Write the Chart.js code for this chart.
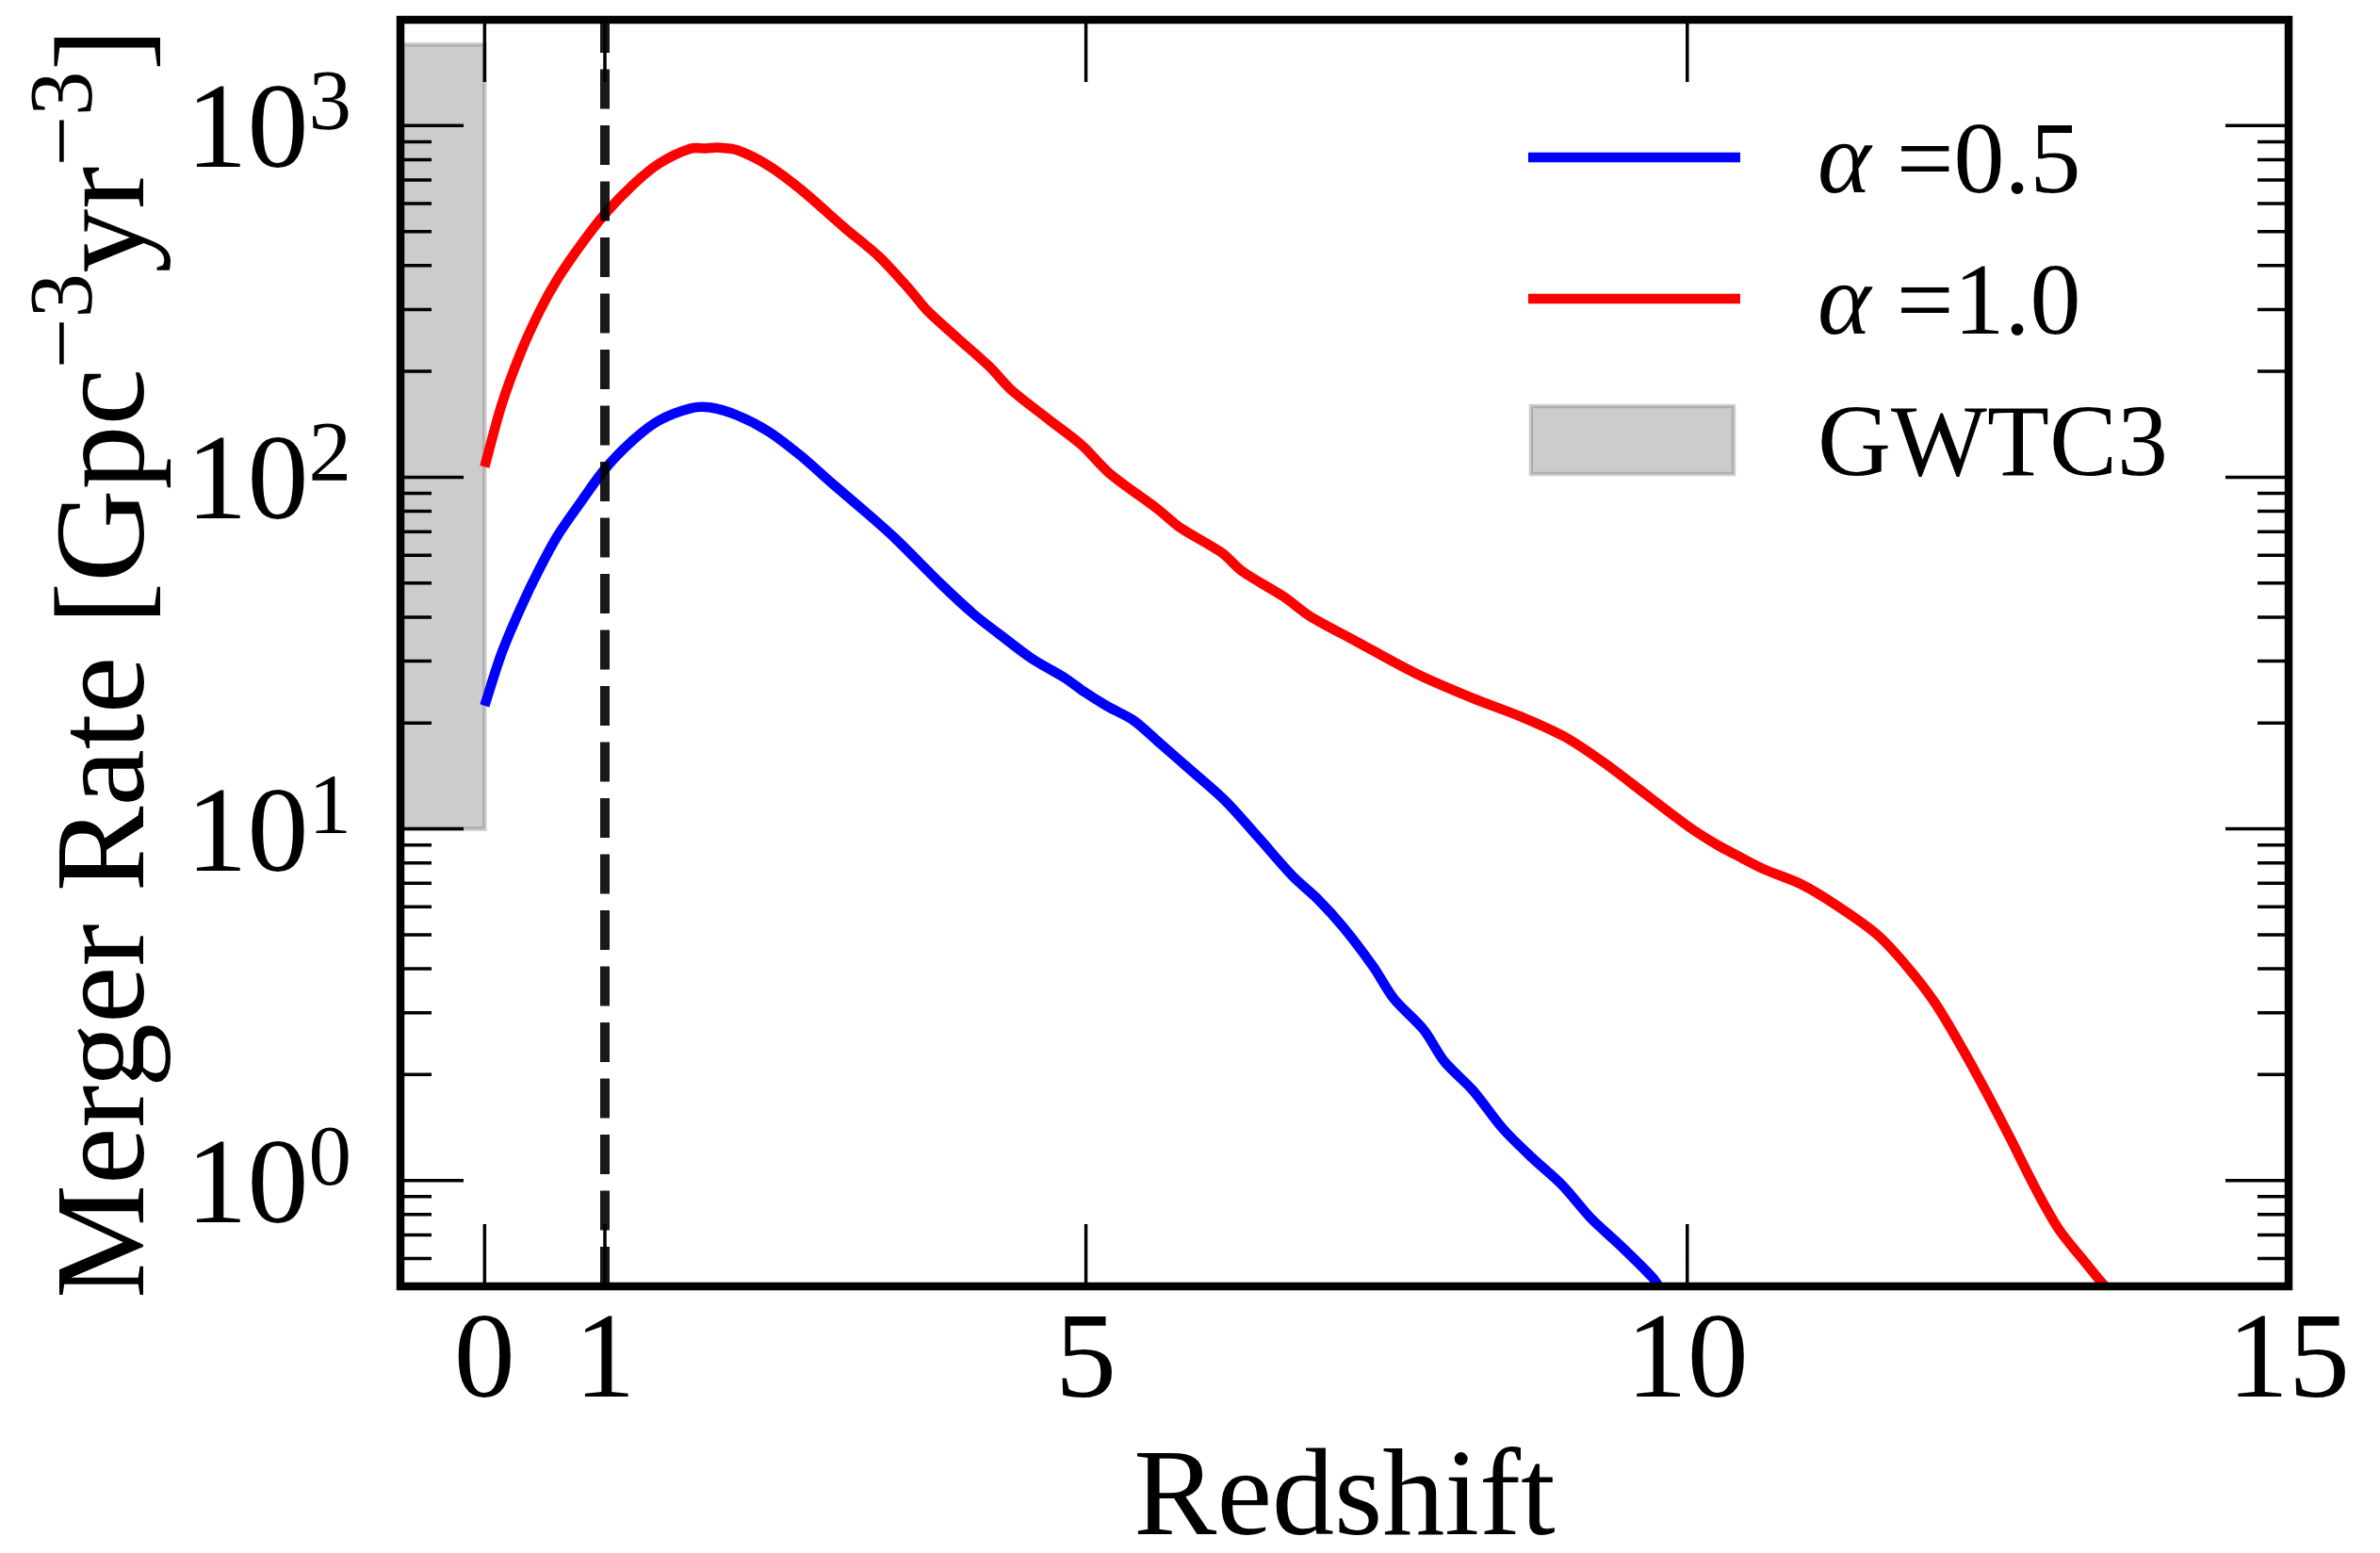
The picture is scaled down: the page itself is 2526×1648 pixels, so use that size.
<!DOCTYPE html>
<html>
<head>
<meta charset="utf-8">
<script src="https://cdn.jsdelivr.net/npm/chart.js@4.4.1/dist/chart.umd.min.js"></script>
<style>
  body { margin: 0; background: #fff; }
  canvas { display: block; }
</style>
</head>
<body>
<canvas id="mergerRate" width="2526" height="1648"></canvas>
<script>
// merger rate vs redshift, alpha = 0.5
const zHalf = [0.0, 0.14, 0.3, 0.46, 0.61, 0.8, 1.0, 1.24, 1.45, 1.71, 1.87, 2.1, 2.36, 2.63, 2.89, 3.15, 3.41, 3.8, 4.07, 4.27, 4.55, 4.83, 4.98, 5.18, 5.4, 5.6, 5.88, 6.16, 6.44, 6.72, 6.93, 7.14, 7.39, 7.56, 7.81, 7.98, 8.22, 8.47, 8.71, 8.96, 9.2, 9.45, 9.71, 9.78];
const rateHalf = [22.4, 31.5, 42.5, 55.2, 68.5, 85, 105.5, 128, 145, 157, 158, 150, 135, 115, 96, 80.6, 67.2, 49.5, 40.7, 36, 30.5, 26.8, 24.6, 22.3, 20.3, 17.7, 14.6, 12.0, 9.4, 7.33, 6.3, 5.25, 4.05, 3.29, 2.68, 2.18, 1.8, 1.4, 1.16, 0.97, 0.78, 0.65, 0.53, 0.49];

// merger rate vs redshift, alpha = 1.0
const zOne = [0.0, 0.14, 0.3, 0.46, 0.61, 0.8, 1.0, 1.24, 1.45, 1.71, 1.84, 1.95, 2.1, 2.36, 2.63, 3.0, 3.28, 3.54, 3.68, 3.93, 4.2, 4.38, 4.69, 4.97, 5.19, 5.6, 5.78, 6.13, 6.3, 6.65, 6.86, 7.25, 7.74, 8.22, 8.61, 8.99, 9.31, 9.66, 10.02, 10.25, 10.4, 10.63, 10.95, 11.26, 11.58, 11.83, 12.06, 12.27, 12.48, 12.68, 12.89, 13.09, 13.3, 13.44, 13.5];
const rateOne = [107, 160, 226, 298, 368, 458, 561, 682, 780, 860, 862, 866, 852, 770, 658, 510, 424, 340, 298, 249, 206, 177, 146, 123, 103, 81, 72, 61, 54, 45.6, 40.3, 34.1, 27.7, 23.5, 20.9, 18.2, 15.4, 12.5, 10.1, 9.0, 8.45, 7.7, 6.95, 6.0, 5.0, 4.05, 3.2, 2.43, 1.8, 1.33, 0.957, 0.726, 0.59, 0.515, 0.49];

const alphaValues = ['0.5', '1.0'];
const seriesColors = ['#0000ff', '#ff0000'];

// GWTC3 local rate range
const bandZ = [-1, 0];
const bandRate = [10, 1700];
const bandLabel = 'GWTC3';

const markerZ = 1;

const xTicks = [0, 1, 5, 10, 15];
const yMajorExps = [0, 1, 2, 3];
const xRange = [-0.7, 15];
const yRange = [0.5, 2000];

const serif = "'Liberation Serif', 'Times New Roman', serif";
const bandFill = 'rgba(128,128,128,0.4)';

function fontOf(size, style) {
  return (style || 'normal') + ' ' + size + 'px ' + serif;
}

// draws [text, isSup] pieces on one baseline
function drawRich(ctx, parts, x, y, size, raise, align) {
  const supSize = size * 0.7;
  const widths = parts.map(([t, sup]) => {
    ctx.font = fontOf(sup ? supSize : size);
    return ctx.measureText(t).width;
  });
  const total = widths.reduce((a, b) => a + b, 0);
  let cx = align === 'right' ? x - total : align === 'center' ? x - total / 2 : x;
  ctx.textAlign = 'left';
  ctx.textBaseline = 'alphabetic';
  parts.forEach(([t, sup], i) => {
    ctx.font = fontOf(sup ? supSize : size);
    ctx.fillText(t, cx, sup ? y - raise : y);
    cx += widths[i];
  });
}

const yMinor = [];
for (let e = -1; e <= 3; e++) {
  for (let m = 2; m <= 9; m++) {
    const v = m * Math.pow(10, e);
    if (v > yRange[0] && v < yRange[1]) yMinor.push(v);
  }
}

const decor = {
  id: 'decor',
  beforeDatasetsDraw(chart) {
    const { ctx, chartArea: a, scales: { x, y } } = chart;
    const x0 = x.getPixelForValue(bandZ[0]);
    const x1 = x.getPixelForValue(bandZ[1]);
    const y0 = y.getPixelForValue(bandRate[1]);
    const y1 = y.getPixelForValue(bandRate[0]);
    ctx.save();
    ctx.beginPath();
    ctx.rect(a.left, a.top, a.right - a.left, a.bottom - a.top);
    ctx.clip();
    ctx.fillStyle = bandFill;
    ctx.fillRect(x0, y0, x1 - x0, y1 - y0);
    ctx.strokeStyle = bandFill;
    ctx.lineWidth = 4.5;
    ctx.strokeRect(x0, y0, x1 - x0, y1 - y0);
    ctx.restore();
  },
  afterDatasetsDraw(chart) {
    // legend, top right inside the axes
    const { ctx, chartArea: a } = chart;
    ctx.save();
    ctx.fillStyle = '#000';
    alphaValues.forEach((val, i) => {
      const rowY = a.top + 146 + 150 * i;
      ctx.strokeStyle = seriesColors[i];
      ctx.lineWidth = 10.5;
      ctx.beginPath();
      ctx.moveTo(a.right - 807, rowY);
      ctx.lineTo(a.right - 582, rowY);
      ctx.stroke();
      const base = rowY + 37;
      ctx.textAlign = 'left';
      ctx.textBaseline = 'alphabetic';
      ctx.font = fontOf(108, 'italic');
      ctx.fillText('α', a.right - 500, base);
      const w = ctx.measureText('α').width;
      ctx.font = fontOf(108);
      ctx.fillText(' =' + val, a.right - 500 + w, base);
    });
    const rowY = a.top + 146 + 150 * 2;
    ctx.fillStyle = bandFill;
    ctx.fillRect(a.right - 804, rowY - 36, 215, 72);
    ctx.strokeStyle = bandFill;
    ctx.lineWidth = 4.5;
    ctx.strokeRect(a.right - 804, rowY - 36, 215, 72);
    ctx.fillStyle = '#000';
    ctx.font = fontOf(108);
    ctx.fillText(bandLabel, a.right - 500, rowY + 37);
    ctx.restore();
  },
  afterDraw(chart) {
    const { ctx, chartArea: a, scales: { x, y } } = chart;
    ctx.save();
    ctx.strokeStyle = '#000';
    ctx.lineWidth = 3.5;
    ctx.beginPath();
    xTicks.forEach(v => {
      const px = x.getPixelForValue(v);
      ctx.moveTo(px, a.bottom); ctx.lineTo(px, a.bottom - 66);
      ctx.moveTo(px, a.top); ctx.lineTo(px, a.top + 66);
    });
    yMajorExps.forEach(e => {
      const py = y.getPixelForValue(Math.pow(10, e));
      ctx.moveTo(a.left, py); ctx.lineTo(a.left + 67, py);
      ctx.moveTo(a.right, py); ctx.lineTo(a.right - 67, py);
    });
    yMinor.forEach(v => {
      const py = y.getPixelForValue(v);
      ctx.moveTo(a.left, py); ctx.lineTo(a.left + 33, py);
      ctx.moveTo(a.right, py); ctx.lineTo(a.right - 33, py);
    });
    ctx.stroke();

    ctx.lineWidth = 8.5;
    ctx.strokeRect(a.left, a.top, a.right - a.left, a.bottom - a.top);

    // y tick labels 10^n
    ctx.fillStyle = '#000';
    yMajorExps.forEach(e => {
      const py = y.getPixelForValue(Math.pow(10, e));
      drawRich(ctx, [['10', false], [String(e), true]], a.left - 52, py + 44, 130, 40, 'right');
    });

    // y axis title
    ctx.translate(a.left - 273, (a.top + a.bottom) / 2 + 11);
    ctx.rotate(-Math.PI / 2);
    drawRich(ctx, [['Merger Rate [Gpc', false], ['−3', true], ['yr', false], ['−3', true], [']', false]], 0, 0, 136, 55, 'center');
    ctx.restore();
  }
};

const lineStyle = {
  borderWidth: 10.5,
  pointRadius: 0,
  fill: false,
  tension: 0.3
};

const mergerRate = new Chart(document.getElementById('mergerRate'), {
  type: 'line',
  data: {
    datasets: [
      {
        label: 'z = 1',
        data: [{ x: markerZ, y: yRange[0] }, { x: markerZ, y: yRange[1] }],
        borderColor: 'rgba(0,0,0,0.9)',
        borderWidth: 10,
        borderDash: [42, 17.5],
        pointRadius: 0,
        order: 0
      },
      Object.assign({
        label: 'α =' + alphaValues[0],
        data: zHalf.map((z, i) => ({ x: z, y: rateHalf[i] })),
        borderColor: seriesColors[0],
        order: 2
      }, lineStyle),
      Object.assign({
        label: 'α =' + alphaValues[1],
        data: zOne.map((z, i) => ({ x: z, y: rateOne[i] })),
        borderColor: seriesColors[1],
        order: 1
      }, lineStyle)
    ]
  },
  options: {
    responsive: false,
    animation: false,
    layout: {
      padding: { left: 0, right: 97, top: 21, bottom: 0 }
    },
    plugins: {
      legend: { display: false },
      tooltip: { enabled: false }
    },
    scales: {
      x: {
        type: 'linear',
        min: xRange[0],
        max: xRange[1],
        grid: { display: false, drawTicks: false },
        border: { display: false },
        afterBuildTicks: axis => { axis.ticks = xTicks.map(v => ({ value: v })); },
        afterFit: axis => { axis.height = 283; },
        ticks: {
          autoSkip: false,
          maxRotation: 0,
          padding: 5,
          color: '#000',
          font: { family: serif, size: 130 },
          callback: v => String(v)
        },
        title: {
          display: true,
          text: 'Redshift',
          color: '#000',
          font: { family: serif, size: 132 },
          padding: { top: 0, bottom: -25 }
        }
      },
      y: {
        type: 'logarithmic',
        min: yRange[0],
        max: yRange[1],
        grid: { display: false, drawTicks: false },
        border: { display: false },
        ticks: { display: false },
        afterFit: axis => { axis.width = 425; }
      }
    }
  },
  plugins: [decor]
});
</script>
</body>
</html>
